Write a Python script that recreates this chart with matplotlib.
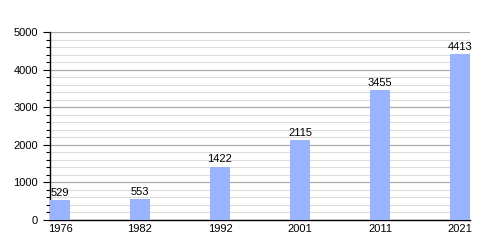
import numpy as np
import matplotlib.pyplot as plt
from matplotlib.ticker import MultipleLocator

plt.rcParams['font.family'] = ['Liberation Sans', 'DejaVu Sans']

years = ['1976', '1982', '1992', '2001', '2011', '2021']
population = [529, 553, 1422, 2115, 3455, 4413]

fig = plt.figure(figsize=(5, 2.5), dpi=100)
ax = fig.add_axes([0.1, 0.12, 0.84, 0.752])

x = np.arange(len(years))
ax.bar(x, population, width=0.25, color='#99b3ff', zorder=3)
for xi, v in zip(x, population):
    ax.text(xi, v + 60, str(v), ha='center', va='bottom', fontsize=8, zorder=4)

ax.set_xlim(-0.125, len(years) - 0.875)
ax.set_ylim(0, 5000)
ax.set_xticks(x)
ax.set_xticklabels(years, fontsize=8)
ax.yaxis.set_major_locator(MultipleLocator(1000))
ax.yaxis.set_minor_locator(MultipleLocator(200))
ax.tick_params(axis='y', which='major', direction='out', length=5, labelsize=8, width=0.8)
ax.tick_params(axis='y', which='minor', direction='out', length=3, width=0.8)
ax.tick_params(axis='x', length=0, pad=3)

ax.grid(axis='y', which='major', color='#aaaaaa', lw=0.9, zorder=0)
ax.grid(axis='y', which='minor', color='#dddddd', lw=0.8, zorder=0)
for s in ['top', 'right']:
    ax.spines[s].set_visible(False)
ax.spines['left'].set_linewidth(1)
ax.spines['bottom'].set_linewidth(1)

fig.savefig('out.png', dpi=100)
